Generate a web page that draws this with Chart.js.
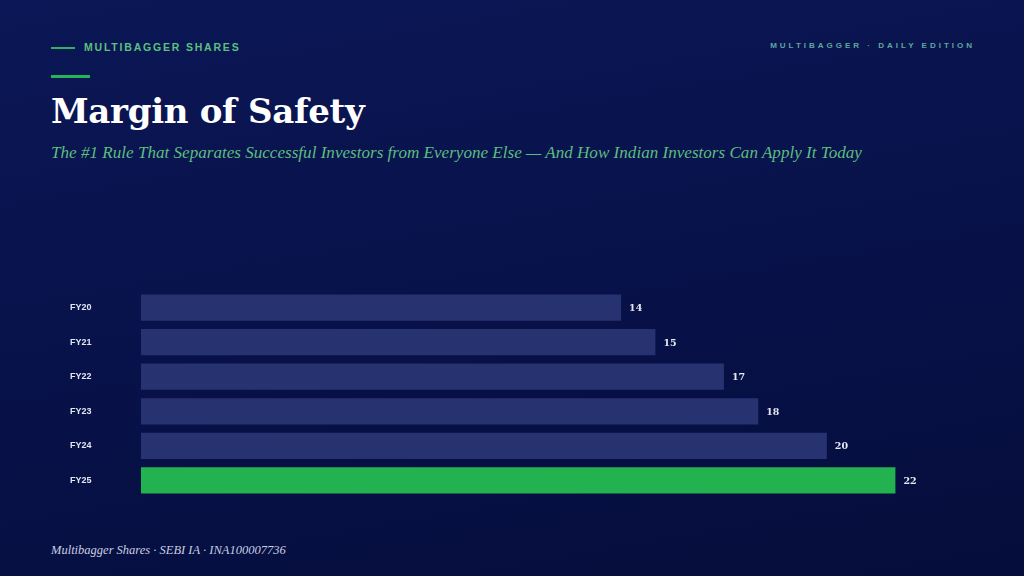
<!DOCTYPE html>
<html><head><meta charset="utf-8">
<script src="https://cdn.jsdelivr.net/npm/chart.js@4/dist/chart.umd.min.js"></script>
<style>
html,body{margin:0;padding:0;}
body{width:1024px;height:576px;overflow:hidden;position:relative;
 background:linear-gradient(170deg,#0b1756 0%,#08124a 50%,#050d3b 100%);font-family:"Liberation Sans",Arial,sans-serif;}
.abs{position:absolute;white-space:nowrap;}
#kick{left:84px;top:41px;font-size:10.5px;font-weight:bold;letter-spacing:1.8px;color:#5cc07e;}
#kline{left:51px;top:47px;width:24px;height:2px;background:#2fb25a;}
#bar2{left:51px;top:75px;width:39px;height:3px;background:#25b455;}
#title{left:51px;top:91px;font-family:"DejaVu Serif",Georgia,serif;font-weight:bold;font-size:34px;color:#ffffff;letter-spacing:-0.3px;}
#sub{left:51px;top:143px;font-family:"Liberation Serif",Georgia,serif;font-style:italic;font-size:17.1px;color:#5cbd80;}
#edition{right:49px;top:41px;font-size:8px;font-weight:bold;letter-spacing:3px;color:#5ea99e;}
#foot{left:51px;top:543px;font-family:"Liberation Serif",Georgia,serif;font-style:italic;font-size:12.5px;color:#c9cee2;}
#wrap{position:absolute;left:70px;top:285px;width:894px;height:218px;}
</style></head>
<body>
<div id="kline" class="abs"></div>
<div id="kick" class="abs">MULTIBAGGER SHARES</div>
<div id="edition" class="abs">MULTIBAGGER · DAILY EDITION</div>
<div id="bar2" class="abs"></div>
<div id="title" class="abs">Margin of Safety</div>
<div id="sub" class="abs">The #1 Rule That Separates Successful Investors from Everyone Else — And How Indian Investors Can Apply It Today</div>
<div id="wrap"><canvas id="c"></canvas></div>
<div id="foot" class="abs">Multibagger Shares · SEBI IA · INA100007736</div>
<script>
const categories = ["FY20","FY21","FY22","FY23","FY24","FY25"];
const values = [14,15,17,18,20,22];
const barColors = ["#273270","#273270","#273270","#273270","#273270","#22b24f"];

const valueLabels = {
  id:'valueLabels',
  afterDatasetsDraw(chart){
    const ctx = chart.ctx;
    const meta = chart.getDatasetMeta(0);
    ctx.save();
    ctx.font = 'bold 9.5px "DejaVu Serif", Georgia, serif';
    ctx.fillStyle = '#e6e8f2';
    ctx.textAlign = 'left';
    ctx.textBaseline = 'middle';
    meta.data.forEach((bar,i)=>{
      ctx.fillText(String(values[i]), bar.x + 8, bar.y + 1);
    });
    ctx.restore();
  }
};

new Chart(document.getElementById('c'),{
  type:'bar',
  data:{labels:categories,datasets:[{data:values,backgroundColor:barColors,borderWidth:0,
    barPercentage:0.76,categoryPercentage:1.0}]},
  options:{
    indexAxis:'y',responsive:true,maintainAspectRatio:false,animation:false,
    layout:{padding:0},
    plugins:{legend:{display:false},tooltip:{enabled:false}},
    scales:{
      x:{display:false,min:0,max:24,grid:{display:false}},
      y:{grid:{display:false},border:{display:false},
        afterFit(s){s.width=71;},
        ticks:{crossAlign:'far',padding:0,color:'#e3e6f0',font:{family:'"Liberation Sans", Arial, sans-serif',weight:'bold',size:9}}}
    }
  },
  plugins:[valueLabels]
});
</script>
</body></html>
